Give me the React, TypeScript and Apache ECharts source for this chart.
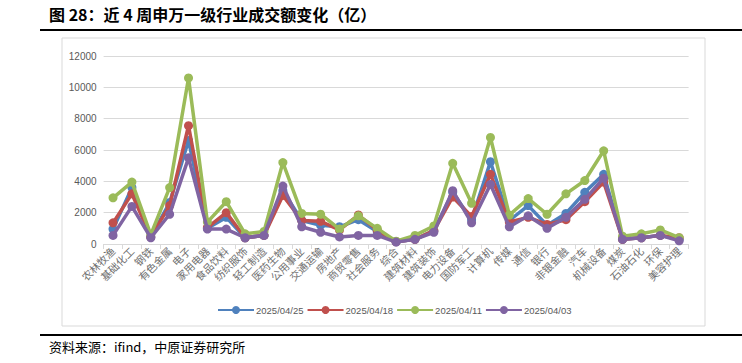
import React, { useEffect, useRef } from "react";
import * as echarts from "echarts";

const categories = [
  "农林牧渔", "基础化工", "钢铁", "有色金属", "电子", "家用电器", "食品饮料", "纺织服饰",
  "轻工制造", "医药生物", "公用事业", "交通运输", "房地产", "商贸零售", "社会服务", "综合",
  "建筑材料", "建筑装饰", "电力设备", "国防军工", "计算机", "传媒", "通信", "银行",
  "非银金融", "汽车", "机械设备", "煤炭", "石油石化", "环保", "美容护理",
];

const seriesNames = ["2025/04/25", "2025/04/18", "2025/04/11", "2025/04/03"];

const s0425 = [950, 3600, 450, 2650, 6600, 1000, 1700, 400, 550, 3400, 1500, 1200, 1100, 1550, 800, 150, 300, 850, 3300, 1550, 5250, 1500, 2450, 1200, 1950, 3300, 4450, 300, 400, 550, 280];
const s0418 = [1350, 3200, 450, 2450, 7550, 1050, 2000, 400, 550, 3100, 1500, 1450, 900, 1850, 900, 150, 300, 850, 3000, 1750, 4450, 1400, 1700, 1250, 1550, 2700, 3950, 300, 400, 550, 400];
const s0411 = [2950, 3950, 600, 3600, 10600, 1400, 2700, 650, 800, 5200, 1950, 1900, 950, 1800, 1000, 180, 550, 1150, 5150, 2600, 6800, 1850, 2900, 1900, 3200, 4050, 5950, 500, 650, 900, 400];
const s0403 = [550, 2400, 400, 1900, 5500, 950, 950, 400, 550, 3700, 1100, 750, 450, 550, 550, 120, 300, 750, 3400, 1350, 3800, 1100, 1800, 1000, 1700, 2850, 4200, 300, 400, 550, 200];

const colors = ["#4F81BD", "#C0504D", "#9BBB59", "#8064A2"];

const titleText = "图 28：近 4 周申万一级行业成交额变化（亿）";
const sourceText = "资料来源：ifind，中原证券研究所";

export default function App() {
  const ref = useRef<HTMLDivElement>(null);
  useEffect(() => {
    if (!ref.current) return;
    const chart = echarts.init(ref.current, undefined, { renderer: "svg" });
    const data = [s0425, s0418, s0411, s0403];
    chart.setOption({
      animation: false,
      backgroundColor: "#ffffff",
      grid: { left: 103.6, right: 53.4, top: 56, bottom: 119, containLabel: false },
      legend: {
        left: 212,
        top: 300,
        itemWidth: 36,
        itemHeight: 10,
        itemGap: 3,
        data: seriesNames,
        textStyle: {
          fontSize: 9.5,
          color: "#595959",
          fontFamily: "Liberation Sans",
          padding: [0, 0, 0, -3],
        },
      },
      xAxis: {
        type: "category",
        data: categories,
        boundaryGap: true,
        axisLine: { lineStyle: { color: "#d9d9d9", width: 1 } },
        axisTick: { show: true, length: 5, lineStyle: { color: "#d9d9d9" } },
        axisLabel: {
          interval: 0,
          rotate: 45,
          margin: 5,
          fontSize: 10.5,
          color: "#6f6f6f",
          fontFamily: "Noto Sans CJK SC",
        },
      },
      yAxis: {
        type: "value",
        min: 0,
        max: 12000,
        interval: 2000,
        axisLine: { show: false },
        axisTick: { show: false },
        splitLine: { lineStyle: { color: "#d9d9d9", width: 1 } },
        axisLabel: {
          fontSize: 10,
          color: "#595959",
          margin: 7,
          fontFamily: "Liberation Sans",
          formatter: (v: number) => String(v),
        },
      },
      series: seriesNames.map((name, i) => ({
        name,
        type: "line",
        data: data[i],
        symbol: "circle",
        symbolSize: 9,
        lineStyle: { width: 3.5, color: colors[i] },
        itemStyle: { color: colors[i] },
        z: 2 + i,
      })),
      graphic: [
        {
          type: "text",
          left: 49,
          top: 6,
          style: {
            text: titleText,
            font: "bold 16px 'Noto Sans CJK SC'",
            fill: "#000000",
          },
        },
        {
          type: "line",
          shape: { x1: 40, y1: 30, x2: 742, y2: 30 },
          style: { stroke: "#000000", lineWidth: 2 },
        },
        {
          type: "rect",
          shape: { x: 62, y: 38, width: 643, height: 288 },
          style: { fill: "none", stroke: "#d9d9d9", lineWidth: 1 },
          silent: true,
        },
        {
          type: "line",
          shape: { x1: 40, y1: 335, x2: 742, y2: 335 },
          style: { stroke: "#000000", lineWidth: 2 },
        },
        {
          type: "text",
          left: 49,
          top: 340,
          style: {
            text: sourceText,
            font: "13px 'Noto Sans CJK SC'",
            fill: "#000000",
          },
        },
      ],
    });
    return () => chart.dispose();
  }, []);
  return (
    <div
      ref={ref}
      style={{ position: "fixed", left: 0, top: 0, width: 742, height: 363, background: "#fff" }}
    />
  );
}
